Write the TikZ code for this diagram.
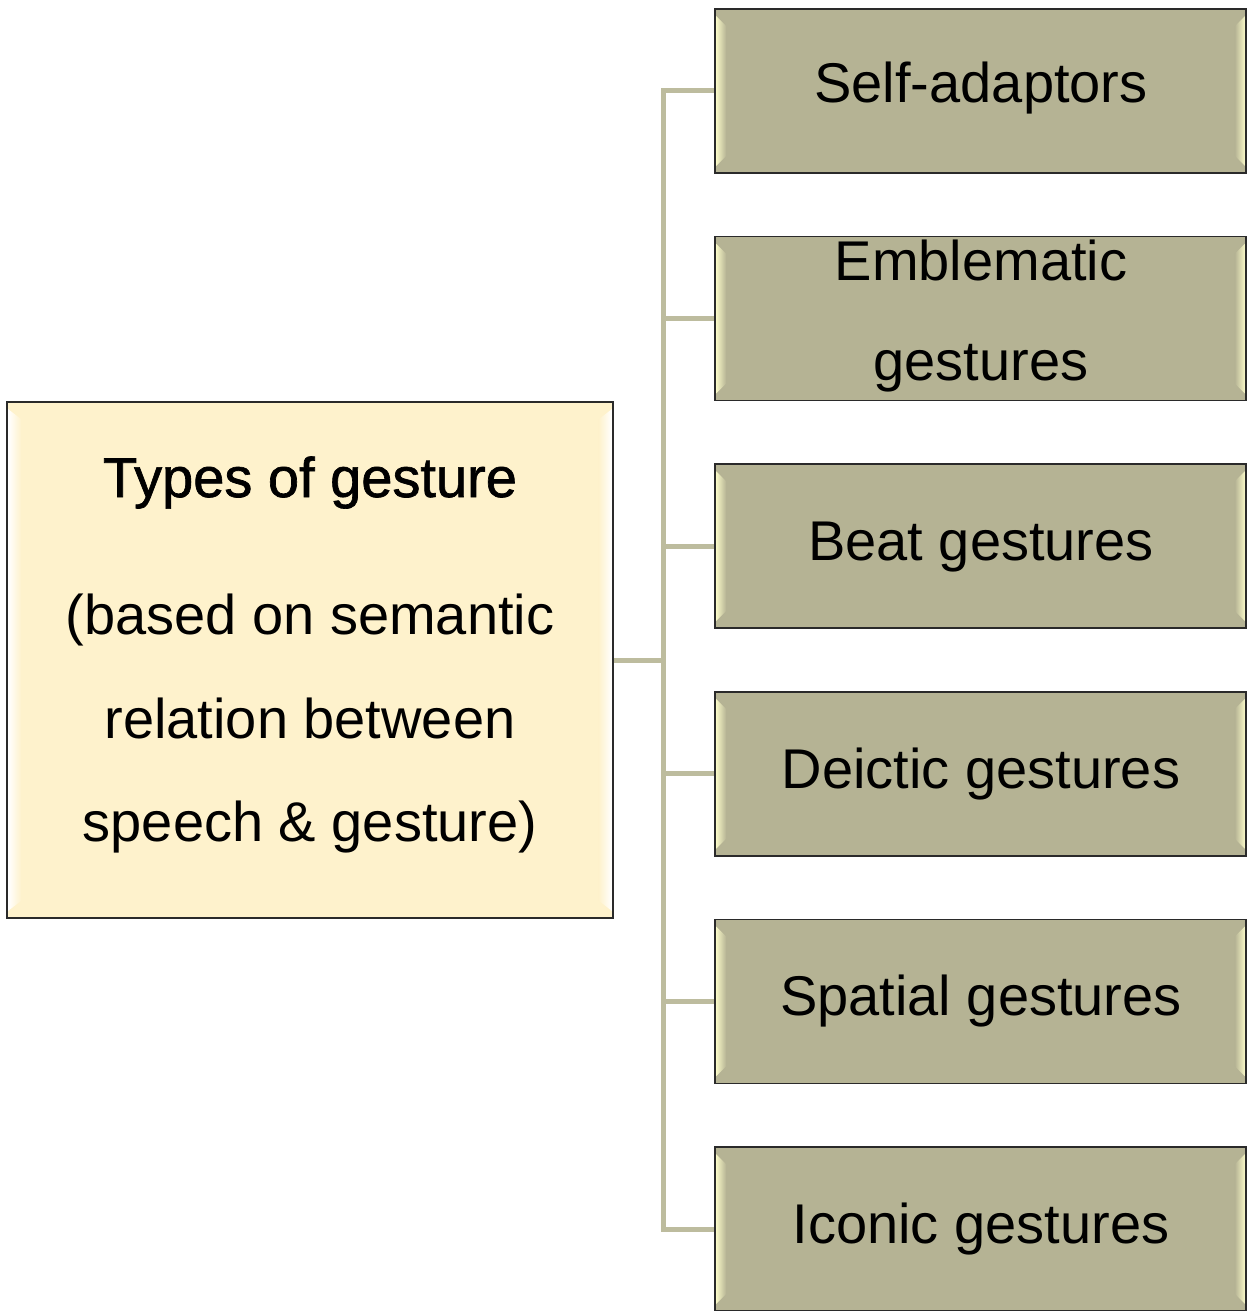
\documentclass[tikz,border=0pt]{standalone}
\usepackage{fontspec}
\setmainfont{Liberation Sans}
\newfontface\titleface{Liberation Sans}[FakeBold=1.2]
\usetikzlibrary{calc}

\definecolor{rootfill}{HTML}{FEF2CC}
\definecolor{leaffill}{HTML}{B5B394}
\definecolor{edgeline}{HTML}{2A2A2A}
\definecolor{connline}{HTML}{BDBC9E}

\tikzset{
  box/.style={draw=edgeline, line width=1.6pt, rectangle, inner sep=0pt},
  rootbox/.style={box, fill=rootfill, minimum width=606pt, minimum height=516pt},
  leafbox/.style={box, fill=leaffill, minimum width=531pt, minimum height=164pt},
  conn/.style={draw=connline, line width=5pt},
  label/.style={anchor=base, inner sep=0pt, font=\fontsize{56}{60}\selectfont}
}

% light bevel strips along the inner left and right edges of a box
% #1 box name, #2 highlight colour, #3 box fill, #4 strip width
\newcommand{\bevelstrips}[4]{%
  \shade[left color=#2, right color=#3] ($(#1.north west)+(2,8)$) -- ($(#1.north west)+(#4,18)$)
        -- ($(#1.south west)+(#4,-18)$) -- ($(#1.south west)+(2,-8)$) -- cycle;
  \shade[left color=#3, right color=#2] ($(#1.north east)+(-2,8)$) -- ($(#1.north east)+(-#4,18)$)
        -- ($(#1.south east)+(-#4,-18)$) -- ($(#1.south east)+(-2,-8)$) -- cycle;
}

\begin{document}
\begin{tikzpicture}[x=1pt, y=-1pt]
  \useasboundingbox (0,0) rectangle (1247,1311);

  % root box
  \node[rootbox] (root) at (310,660) {};
  \bevelstrips{root}{white}{rootfill}{15}

  % six category boxes
  \foreach \i in {1,...,6} {
    \node[leafbox] (b\i) at (980.5, {91 + (\i-1)*227.6}) {};
    \bevelstrips{b\i}{white!80!yellow!90!leaffill}{leaffill}{12}
  }

  % connectors
  \coordinate (trunk) at (663,0);
  \draw[conn] (root.east) -- (root.east -| trunk);
  \draw[conn, line cap=rect] (b1.west -| trunk) -- (b6.west -| trunk);
  \foreach \i in {1,...,6} {
    \draw[conn] (b\i.west -| trunk) -- (b\i.west);
  }

  % root text
  \node[label] (t0) at (310,497) {\titleface Types of gesture};
  \node[label] (t1) at (310,634) {(based on semantic};
  \node[label] (t2) at (310,738) {relation between};
  \node[label] (t3) at (310,841) {speech \& gesture)};

  % category texts
  \node[label] (l1)  at (981,103) {Self-adaptors};
  \node[label] (l2a) at (981,280) {Emblematic};
  \node[label] (l2b) at (981,380) {gestures};
  \node[label] (l3)  at (981,560) {Beat gestures};
  \node[label] (l4)  at (981,788) {Deictic gestures};
  \node[label] (l5)  at (981,1015) {Spatial gestures};
  \node[label] (l6)  at (981,1243) {Iconic gestures};
\end{tikzpicture}
\end{document}
